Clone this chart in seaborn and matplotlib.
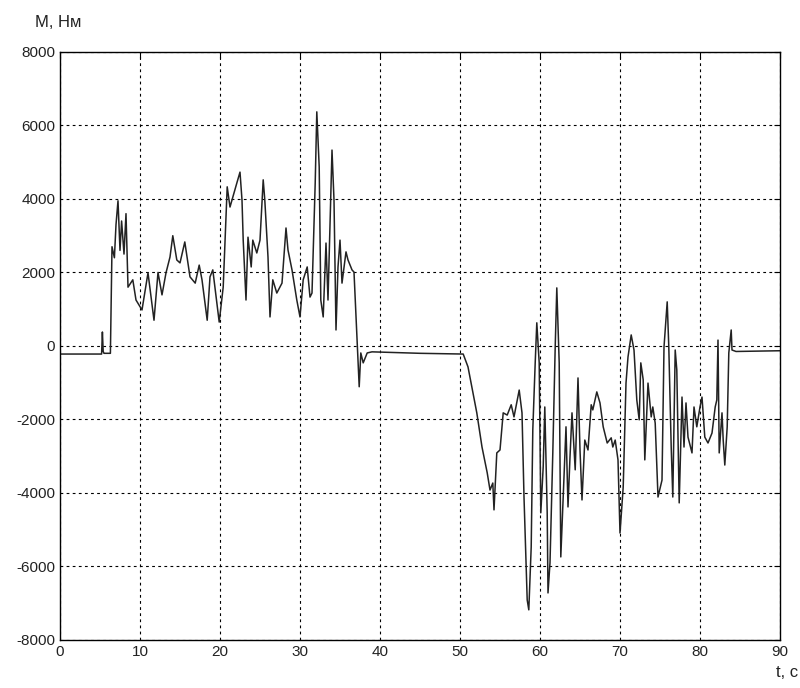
import pandas as pd
import seaborn as sns
import matplotlib.pyplot as plt

# Момент на валу M (Нм) по времени t (с)
t = [0, 5.2, 5.3, 5.4, 5.5, 6.3, 6.5, 6.8, 7.0, 7.25, 7.5, 7.7, 8.0, 8.25, 8.5,
     9.1, 9.5, 10.25, 11, 11.75, 12.25, 12.75, 13.25, 13.75, 14.1, 14.6, 15,
     15.6, 16.25, 16.9, 17.4, 17.75, 18.4, 18.75, 19.1, 19.9, 20.4, 20.9, 21.25,
     21.6, 22.1, 22.5, 22.75, 22.9, 23.25, 23.5, 23.9, 24.1, 24.6, 25, 25.4,
     25.6, 26, 26.25, 26.6, 27.1, 27.75, 28.25, 28.5, 29, 29.6, 30, 30.4, 30.9,
     31.25, 31.5, 31.9, 32.1, 32.4, 32.6, 32.9, 33.25, 33.5, 34, 34.25, 34.5,
     34.75, 35, 35.25, 35.75, 36, 36.5, 36.75, 37.1, 37.4, 37.6, 37.9, 38.4,
     39, 45, 50.4, 51, 52.1, 52.75, 53.4, 53.75, 54.1, 54.25, 54.6, 55, 55.4,
     55.9, 56.4, 56.75, 57.4, 57.75, 58, 58.4, 58.6, 58.9, 59.1, 59.4, 59.6,
     59.9, 60.1, 60.4, 60.6, 60.9, 61, 61.25, 61.6, 61.9, 62.1, 62.4, 62.6,
     62.9, 63.25, 63.5, 63.75, 64, 64.4, 64.75, 65, 65.25, 65.6, 66, 66.4,
     66.6, 67.1, 67.5, 67.9, 68.4, 68.9, 69.1, 69.4, 69.75, 70, 70.4, 70.75,
     71, 71.4, 71.75, 72.1, 72.4, 72.6, 72.9, 73.1, 73.5, 73.9, 74.1, 74.4,
     74.75, 75.25, 75.5, 75.9, 76.1, 76.4, 76.6, 76.9, 77.1, 77.4, 77.75, 78,
     78.25, 78.5, 79, 79.25, 79.6, 80, 80.25, 80.6, 81, 81.5, 81.9, 82.1,
     82.25, 82.4, 82.75, 82.9, 83.1, 83.4, 83.6, 83.9, 84, 84.5, 90]
M = [-220, -220, 380, -150, -200, -200, 2700, 2400, 3300, 3950, 2600, 3400,
     2500, 3600, 1600, 1800, 1250, 980, 1990, 700, 2000, 1390, 1990, 2420,
     3000, 2340, 2260, 2830, 1880, 1710, 2200, 1800, 700, 1880, 2070, 650,
     1600, 4330, 3780, 4050, 4430, 4730, 3970, 2880, 1250, 2960, 2150, 2880,
     2530, 2880, 4520, 3970, 2420, 790, 1800, 1440, 1710, 3210, 2610, 2070,
     1250, 790, 1800, 2150, 1330, 1440, 4430, 6370, 4870, 1250, 790, 2800,
     1250, 5330, 3970, 435, 2150, 2880, 1710, 2560, 2340, 2070, 2010, 350,
     -1110, -190, -460, -190, -160, -200, -220, -570, -1820, -2750, -3450,
     -3920, -3730, -4460, -2910, -2830, -1820, -1880, -1600, -1930, -1200,
     -1820, -4110, -6910, -7180, -5470, -2280, -460, 630, -460, -4540, -3290,
     -1660, -4540, -6720, -5900, -2910, -30, 1580, -460, -5740, -4110, -2200,
     -4380, -3020, -1820, -3370, -870, -2830, -4190, -2560, -2830, -1600,
     -1740, -1250, -1550, -2200, -2640, -2500, -2750, -2560, -3100, -5090,
     -3840, -1010, -300, 300, -110, -1470, -2010, -460, -920, -3100, -1010,
     -1930, -1660, -2100, -4110, -3650, -30, 1200, -30, -2750, -4110, -110,
     -650, -4270, -1390, -2750, -1550, -2480, -2910, -1660, -2200, -1660,
     -1390, -2480, -2640, -2370, -1660, -1470, 160, -2910, -1820, -2560,
     -3240, -2200, -190, 435, -110, -150, -130]

x_ticks = list(range(0, 91, 10))
y_ticks = list(range(-8000, 8001, 2000))

sns.set_style("white")
plt.rcParams['font.family'] = ['Liberation Sans', 'DejaVu Sans']
plt.rcParams['axes.unicode_minus'] = False

df = pd.DataFrame({"t": t, "M": M})

fig = plt.figure(figsize=(8, 6.88), dpi=100)
ax = fig.add_axes([0.075, 0.0698, 0.9, 0.8547])
sns.lineplot(data=df, x="t", y="M", ax=ax, color="#222222", linewidth=1.1,
             estimator=None, sort=False)

ax.set_xlim(0, 90)
ax.set_ylim(-8000, 8000)
ax.set_xticks(x_ticks)
ax.set_yticks(y_ticks)
ax.set_xticklabels([str(v) for v in x_ticks])
ax.set_yticklabels([str(v) for v in y_ticks])
ax.tick_params(direction="in", length=4, labelsize=11, top=True, right=True,
               color="black", labelcolor="#222222")
ax.grid(True, color="black", linestyle=(0, (2.5, 3)), linewidth=0.8)
for s in ax.spines.values():
    s.set_color("black")
    s.set_linewidth(1.0)
ax.set_xlabel("")
ax.set_ylabel("")

fig.text(0.044, 0.968, "M, Нм", fontsize=12, ha="left", va="center", color="#222222")
fig.text(0.97, 0.012, "t, c", fontsize=12, ha="left", va="bottom", color="#222222")

fig.savefig("out.png", dpi=100)
